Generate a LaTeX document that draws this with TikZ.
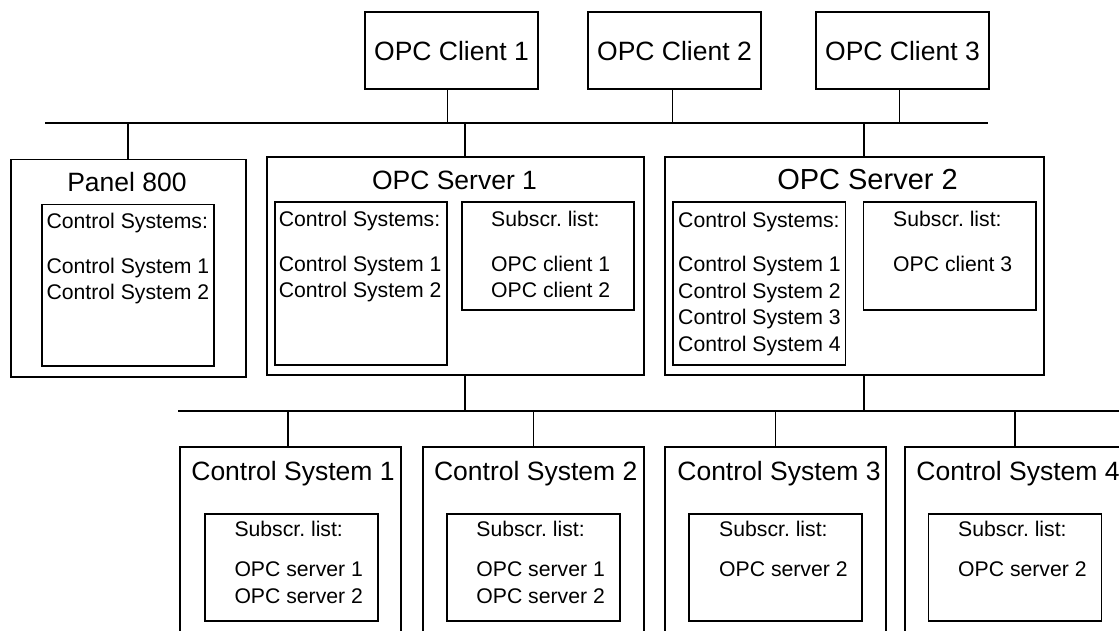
\documentclass[tikz,border=0pt]{standalone}
\usepackage{fontspec}
\setmainfont{Liberation Sans}
\usepackage{tikz}
\usetikzlibrary{positioning,calc}
\frenchspacing
\tikzset{
  frame/.style    ={draw=black, line width=1.9pt, rectangle, inner sep=0pt,
                    anchor=north west},
  clientbox/.style={frame, minimum width=173pt, minimum height=77pt,
                    font=\fontsize{26.5}{32}\selectfont},
  title/.style    ={font=\fontsize{26.5}{32}\selectfont, inner sep=0pt,
                    anchor=base},
  % base of a multi-line node = baseline of its last line
  listtxt/.style  ={font=\fontsize{21.2}{26.5}\selectfont, align=left,
                    inner sep=0pt, anchor=base west},
  bus/.style      ={line width=1.9pt},
}
\begin{document}
\begin{tikzpicture}[x=1pt,y=-1pt]
  \useasboundingbox (0,0) rectangle (1119,631);
  \clip (0,0) rectangle (1119,631);

  % clients
  \node[clientbox] (cli1) at (364,11.5) {OPC Client 1};
  \node[clientbox] (cli2) at (587,11.5) {OPC Client 2};
  \node[clientbox] (cli3) at (815,11.5) {OPC Client 3};

  % servers and panel
  \node[frame,minimum width=235pt,minimum height=217pt] (pnl) at (9.6,158.6) {};
  \node[frame,minimum width=377pt,minimum height=218pt] (srv1) at (266,156) {};
  \node[frame,minimum width=379pt,minimum height=218pt] (srv2) at (664,156) {};

  \node[title] (pnlttl) at (127,192) {Panel 800};
  \node[title] (srv1ttl) at (454.5,190) {OPC Server 1};
  \node[title,font=\fontsize{29}{35}\selectfont] (srv2ttl) at (867.5,190) {OPC Server 2};

  \node[frame,minimum width=172pt,minimum height=161pt] (pnlcs) at (41,203.6) {};
  \node[frame,minimum width=172.5pt,minimum height=163pt] (srv1cs) at (273.6,201) {};
  \node[frame,minimum width=172.5pt,minimum height=108pt] (srv1sub) at (460.7,201) {};
  \node[frame,minimum width=172.5pt,minimum height=163pt] (srv2cs) at (672,201) {};
  \node[frame,minimum width=172.5pt,minimum height=108pt] (srv2sub) at (862.5,201) {};

  \node[listtxt] (pnllst) at (46.4,299.6)
    {Control Systems:\\[18pt]Control System 1\\Control System 2};
  \node[listtxt] (srv1lst) at (278.6,297.5)
    {Control Systems:\\[18pt]Control System 1\\Control System 2};
  \node[listtxt] (srv1sublst) at (491,297.5)
    {Subscr. list:\\[18pt]OPC client 1\\OPC client 2};
  \node[listtxt] (srv2lst) at (678,351)
    {Control Systems:\\[18pt]Control System 1\\Control System 2\\Control System 3\\Control System 4};
  \node[listtxt] (srv2sublst) at (893,271)
    {Subscr. list:\\[18pt]OPC client 3};

  % control systems
  \node[frame,minimum width=221pt,minimum height=200pt] (cs1) at (179.3,446) {};
  \node[frame,minimum width=221pt,minimum height=200pt] (cs2) at (422,446) {};
  \node[frame,minimum width=221pt,minimum height=200pt] (cs3) at (664,446) {};
  \node[frame,minimum width=221pt,minimum height=200pt] (cs4) at (903.6,446) {};

  \node[title] (cs1ttl) at (293,480.7) {Control System 1};
  \node[title] (cs2ttl) at (535.7,480.7) {Control System 2};
  \node[title] (cs3ttl) at (779,480.7) {Control System 3};
  \node[title] (cs4ttl) at (1018,480.7) {Control System 4};

  \node[frame,minimum width=173pt,minimum height=107pt] (cs1sub) at (203.6,513) {};
  \node[frame,minimum width=173pt,minimum height=107pt] (cs2sub) at (445.7,513) {};
  \node[frame,minimum width=173pt,minimum height=107pt] (cs3sub) at (688,513) {};
  \node[frame,minimum width=173pt,minimum height=107pt] (cs4sub) at (927.5,513) {};

  \node[listtxt] (cs1lst) at (234.3,603.3) {Subscr. list:\\[13.5pt]OPC server 1\\OPC server 2};
  \node[listtxt] (cs2lst) at (476.2,603.3) {Subscr. list:\\[13.5pt]OPC server 1\\OPC server 2};
  \node[listtxt] (cs3lst) at (719,576.8) {Subscr. list:\\[13.5pt]OPC server 2};
  \node[listtxt] (cs4lst) at (958,576.8) {Subscr. list:\\[13.5pt]OPC server 2};

  % buses
  \coordinate (topl) at (45,123);
  \coordinate (topr) at (988,123);
  \coordinate (botl) at (178,411);
  \coordinate (botr) at (1125,411);
  \coordinate (s1) at (464.6,123);
  \coordinate (s2) at (863.6,123);
  \draw[bus] (topl) -- (topr);
  \draw[bus] (botl) -- (botr);

  \draw[bus] ([xshift=-4pt]cli1.south) -- ([xshift=-4pt]cli1.south |- topl);
  \draw[bus] ([xshift=-2pt]cli2.south) -- ([xshift=-2pt]cli2.south |- topl);
  \draw[bus] ([xshift=-3pt]cli3.south) -- ([xshift=-3pt]cli3.south |- topl);
  \draw[bus] (pnl.north) -- (pnl.north |- topl);
  \draw[bus] (s1) -- (s1 |- srv1.north);
  \draw[bus] (s2) -- (s2 |- srv2.north);
  \draw[bus] (s1 |- srv1.south) -- (s1 |- botl);
  \draw[bus] (s2 |- srv2.south) -- (s2 |- botl);
  \draw[bus] ([xshift=-3pt]cs1.north) -- ([xshift=-3pt]cs1.north |- botl);
  \draw[bus] (cs2.north) -- (cs2.north |- botl);
  \draw[bus] (cs3.north) -- (cs3.north |- botl);
  \draw[bus] (cs4.north) -- (cs4.north |- botl);
\end{tikzpicture}
\end{document}
